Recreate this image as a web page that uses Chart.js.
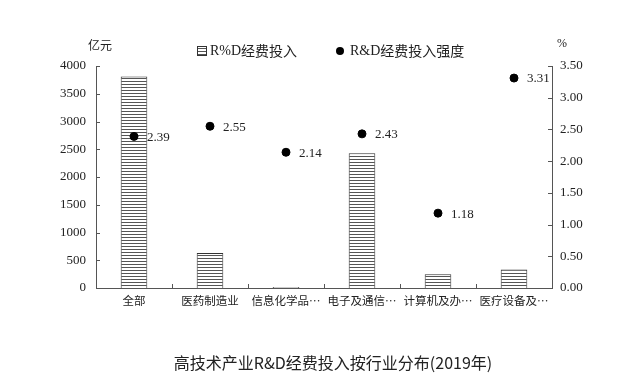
<!DOCTYPE html>
<html>
<head>
<meta charset="utf-8">
<script src="https://cdn.jsdelivr.net/npm/chart.js@4/dist/chart.umd.min.js"></script>
<style>
  body { margin: 0; background: #fff; }
  #wrap { position: relative; width: 629px; height: 390px; }
  .lbl { position: absolute; font-family: "Noto Sans CJK SC", sans-serif; color: #222; }
</style>
</head>
<body>
<div id="wrap">
  <canvas id="c" width="629" height="390"></canvas>
  <div class="lbl" style="left:88px; top:36px; font-size:12px;">亿元</div>
  <div class="lbl" style="left:557px; top:36px; font-size:12px; font-family:'Liberation Serif',serif;">%</div>
  <div class="lbl" style="left:0; width:666px; top:350px; font-size:16px; text-align:center;">高技术产业R&amp;D经费投入按行业分布(2019年)</div>
</div>
<script>
const CATEGORIES = ["全部", "医药制造业", "信息化学品…", "电子及通信…", "计算机及办…", "医疗设备及…"];
const RD_SPEND = [3810, 630, 20, 2430, 250, 335];
const RD_INTENSITY = [2.39, 2.55, 2.14, 2.43, 1.18, 3.31];
const LEFT_TICKS = [0, 500, 1000, 1500, 2000, 2500, 3000, 3500, 4000];
const RIGHT_TICKS = [0, 0.5, 1, 1.5, 2, 2.5, 3, 3.5];

const SERIF = "\"Liberation Serif\", \"Times New Roman\", serif";
const CJK = "\"Noto Sans CJK SC\", sans-serif";

function hatch() {
  const c = document.createElement("canvas");
  c.width = 4; c.height = 3;
  const g = c.getContext("2d");
  g.fillStyle = "#fff"; g.fillRect(0, 0, 4, 3);
  g.fillStyle = "#555"; g.fillRect(0, 0, 4, 1);
  return g.createPattern(c, "repeat");
}
const HATCH = hatch();

// inward tick marks, like the source
const inwardTicks = {
  id: "inwardTicks",
  afterDraw(chart) {
    const ctx = chart.ctx, a = chart.chartArea;
    ctx.save();
    ctx.strokeStyle = "#555"; ctx.lineWidth = 1;
    const y = chart.scales.y, y2 = chart.scales.y2, x = chart.scales.x;
    y.ticks.forEach((t, i) => {
      const p = Math.round(y.getPixelForTick(i)) + 0.5;
      ctx.beginPath(); ctx.moveTo(a.left, p); ctx.lineTo(a.left + 4, p); ctx.stroke();
    });
    y2.ticks.forEach((t, i) => {
      const p = Math.round(y2.getPixelForTick(i)) + 0.5;
      ctx.beginPath(); ctx.moveTo(a.right, p); ctx.lineTo(a.right - 4, p); ctx.stroke();
    });
    for (let i = 1; i < CATEGORIES.length; i++) {
      const p = Math.round((x.getPixelForValue(i - 1) + x.getPixelForValue(i)) / 2) + 0.5;
      ctx.beginPath(); ctx.moveTo(p, a.bottom); ctx.lineTo(p, a.bottom - 4); ctx.stroke();
    }
    ctx.restore();
  }
};

const pointLabels = {
  id: "pointLabels",
  afterDatasetsDraw(chart) {
    const ctx = chart.ctx;
    const meta = chart.getDatasetMeta(1);
    ctx.save();
    ctx.font = "13px " + SERIF;
    ctx.fillStyle = "#222";
    ctx.textBaseline = "middle";
    meta.data.forEach((pt, i) => {
      ctx.fillText(RD_INTENSITY[i].toFixed(2), pt.x + 13, pt.y + 1);
    });
    ctx.restore();
  }
};

const legendBox = {
  id: "legendBox",
  afterDraw(chart) {
    const ctx = chart.ctx;
    ctx.save();
    ctx.fillStyle = HATCH;
    ctx.fillRect(197, 46, 10, 10);
    ctx.strokeStyle = "#333";
    ctx.strokeRect(197.5, 46.5, 9, 9);
    ctx.fillStyle = "#222";
    ctx.textBaseline = "middle";
    ctx.font = "14px " + SERIF;
    ctx.fillText("R%D", 210, 51);
    let w = ctx.measureText("R%D").width;
    ctx.font = "14px " + CJK;
    ctx.fillText("经费投入", 210 + w, 51);
    ctx.beginPath(); ctx.arc(340, 51, 4, 0, Math.PI * 2); ctx.fillStyle = "#000"; ctx.fill();
    ctx.fillStyle = "#222";
    ctx.font = "14px " + SERIF;
    ctx.fillText("R&D", 350, 51);
    w = ctx.measureText("R&D").width;
    ctx.font = "14px " + CJK;
    ctx.fillText("经费投入强度", 350 + w, 51);
    ctx.restore();
  }
};

new Chart(document.getElementById("c"), {
  data: {
    labels: CATEGORIES,
    datasets: [
      { type: "bar", label: "R%D经费投入", data: RD_SPEND, backgroundColor: HATCH, borderColor: "#333", borderWidth: 1,
        barPercentage: 0.35, categoryPercentage: 1, yAxisID: "y", order: 2 },
      { type: "line", label: "R&D经费投入强度", data: RD_INTENSITY, showLine: false, pointRadius: 4, pointHoverRadius: 4,
        pointBackgroundColor: "#000", pointBorderColor: "#000", yAxisID: "y2", order: 1 },
    ],
  },
  options: {
    responsive: false,
    animation: false,
    layout: { padding: { top: 66, left: 0, right: 0, bottom: 0 } },
    plugins: { legend: { display: false }, tooltip: { enabled: false } },
    scales: {
      x: {
        grid: { display: false, drawTicks: false },
        border: { color: "#555" },
        ticks: { color: "#222", font: { family: CJK, size: 11.5 }, padding: 6, maxRotation: 0, autoSkip: false },
        afterFit(s) { s.height = 102; },
      },
      y: {
        position: "left", min: 0, max: 4000,
        grid: { display: false, drawTicks: false },
        border: { color: "#555" },
        afterBuildTicks(s) { s.ticks = LEFT_TICKS.map(v => ({ value: v })); },
        ticks: { color: "#222", font: { family: SERIF, size: 13 }, padding: 10, callback: v => String(v) },
        afterFit(s) { s.width = 96; },
      },
      y2: {
        position: "right", min: 0, max: 3.5,
        grid: { display: false, drawTicks: false },
        border: { color: "#555" },
        afterBuildTicks(s) { s.ticks = RIGHT_TICKS.map(v => ({ value: v })); },
        ticks: { color: "#222", font: { family: SERIF, size: 13 }, padding: 8, callback: v => v.toFixed(2) },
        afterFit(s) { s.width = 77; },
      },
    },
  },
  plugins: [inwardTicks, pointLabels, legendBox],
});
</script>
</body>
</html>
